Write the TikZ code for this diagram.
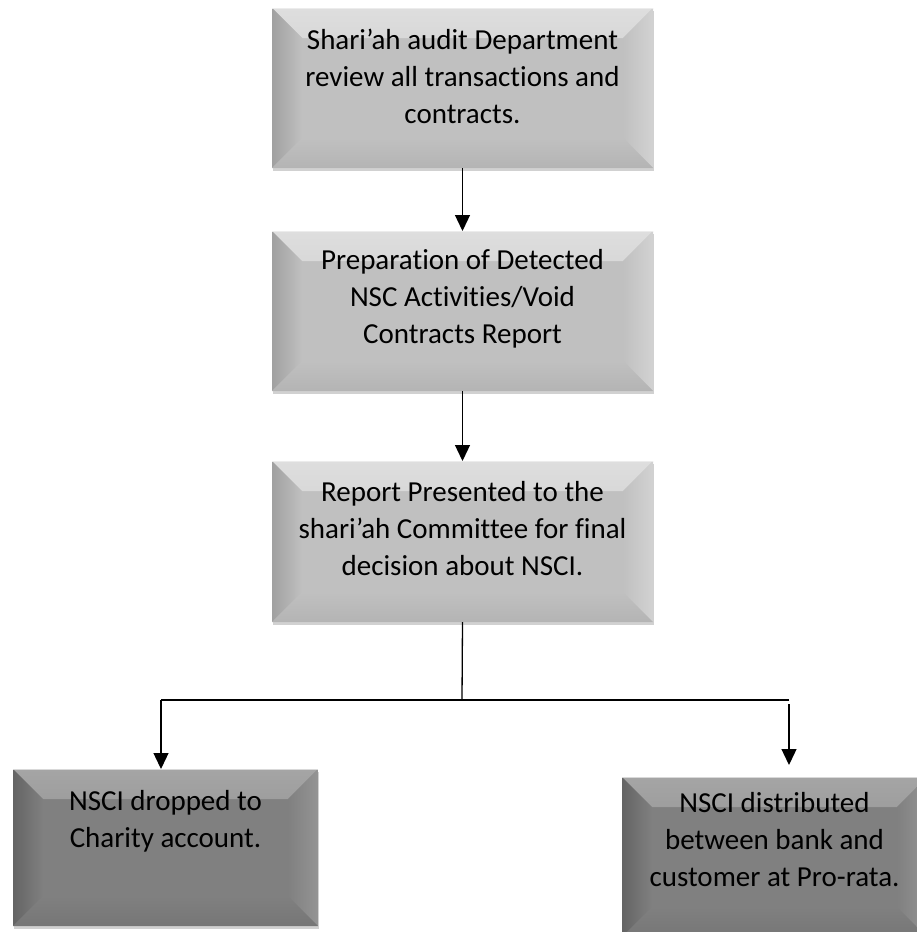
\documentclass[tikz,border=0pt]{standalone}
\usepackage{fontspec}
\setmainfont[Ligatures=NoCommon]{Carlito}
\usetikzlibrary{arrows.meta,shadows,calc}
\definecolor{faceA}{RGB}{192,192,192}
\definecolor{topA}{RGB}{222,222,222}
\definecolor{leftA}{RGB}{160,160,160}
\definecolor{rightA}{RGB}{210,210,210}
\definecolor{botA}{RGB}{180,180,180}
\definecolor{faceB}{RGB}{128,128,128}
\definecolor{topB}{RGB}{165,165,165}
\definecolor{leftB}{RGB}{100,100,100}
\definecolor{rightB}{RGB}{148,148,148}
\definecolor{botB}{RGB}{118,118,118}
\newcommand\bxt[4]{\parbox[c][#2][t]{#1}{\centering\rule{0pt}{#3}#4}}
\tikzset{
  bevelbox/.style={rectangle, inner sep=0pt, outer sep=0pt, fill=face#1,
    font=\fontsize{29pt}{37pt}\selectfont, text=black,
    drop shadow={shadow xshift=1pt, shadow yshift=-3pt, opacity=0.18, fill=black},
    path picture={
      \def\pb{path picture bounding box}
      \shade[top color=top#1, bottom color=face#1]
        (\pb.north west) -- (\pb.north east) -- ([shift={(-30pt,-30pt)}]\pb.north east)
        -- ([shift={(30pt,-30pt)}]\pb.north west) -- cycle;
      \shade[left color=left#1, right color=face#1]
        (\pb.north west) -- ([shift={(30pt,-30pt)}]\pb.north west)
        -- ([shift={(30pt,30pt)}]\pb.south west) -- (\pb.south west) -- cycle;
      \shade[left color=face#1, right color=right#1]
        (\pb.north east) -- ([shift={(-30pt,-30pt)}]\pb.north east)
        -- ([shift={(-30pt,30pt)}]\pb.south east) -- (\pb.south east) -- cycle;
      \shade[top color=face#1, bottom color=bot#1]
        (\pb.south west) -- ([shift={(30pt,30pt)}]\pb.south west)
        -- ([shift={(-30pt,30pt)}]\pb.south east) -- (\pb.south east) -- cycle;
      \draw[white!70!face#1, line width=1pt] (\pb.north west) -- (\pb.north east);
    }},
  arr/.style={line width=1.3pt, -{Triangle[length=16pt,width=15pt]}},
  ln/.style={line width=1.3pt}
}
\begin{document}
\begin{tikzpicture}[x=1pt,y=-1pt]
\useasboundingbox (0,0) rectangle (917,932);
\node[bevelbox=A, anchor=north west] (b1) at (272,8)
  {\bxt{381pt}{160pt}{41pt}{Shari’ah audit Department\\review all transactions and\\contracts.}};
\node[bevelbox=A, anchor=north west] (b2) at (272,231)
  {\bxt{381pt}{160pt}{38pt}{Preparation of Detected\\NSC Activities/Void\\Contracts Report}};
\node[bevelbox=A, anchor=north west] (b3) at (272,461)
  {\bxt{381pt}{161pt}{40pt}{Report Presented to the\\shari’ah Committee for final\\decision about NSCI.}};
\node[bevelbox=B, anchor=north west] (b4) at (13,769)
  {\bxt{305pt}{157pt}{41pt}{NSCI dropped to\\Charity account.}};
\node[bevelbox=B, anchor=north west] (b5) at (622,777)
  {\bxt{305pt}{160pt}{35pt}{NSCI distributed\\between bank and\\customer at Pro-rata.}};
\coordinate (j) at (462,700);
\coordinate (jl) at (161,700);
\coordinate (jr) at (789,700);
\coordinate (rs) at (789,704);
\coordinate (rt) at (789,765);
\draw[arr] (b1.south) -- (b2.north);
\draw[arr] (b2.south) -- (b3.north);
\draw[ln] (b3.south) -- (j);
\draw[ln] (jr) -- (j) -- (jl);
\draw[arr] (jl) -- (jl |- b4.north);
\draw[arr] (rs) -- (rt);
\end{tikzpicture}
\end{document}
